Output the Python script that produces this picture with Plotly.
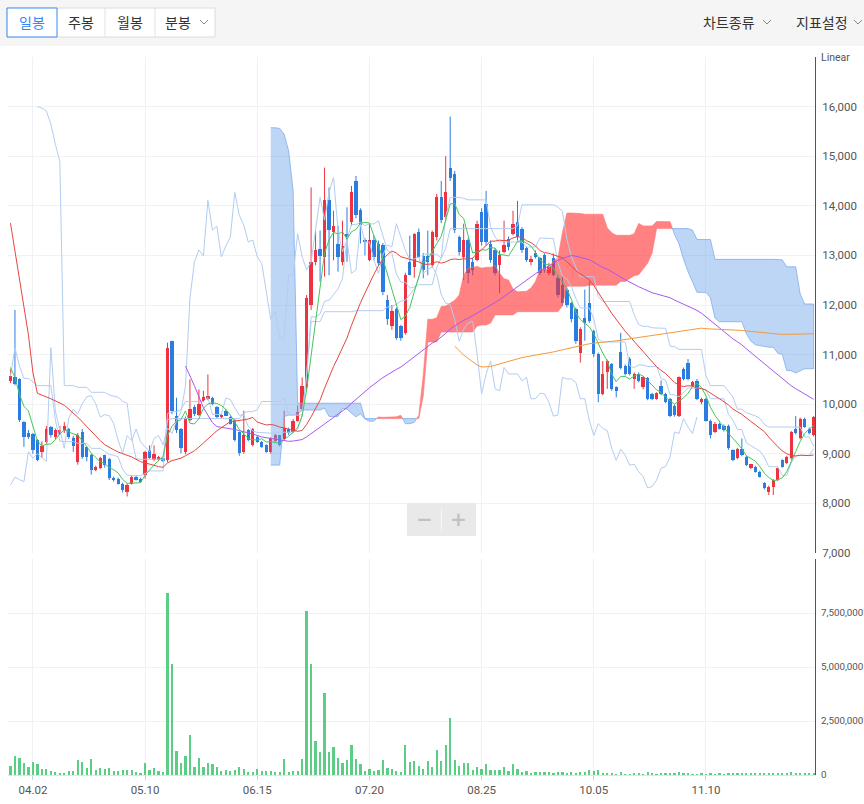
import numpy as np
import plotly.graph_objects as go

W, H = 864, 804
def px(x): return x / W
def py(y): return 1 - y / H

# ---------------- data ----------------
tick_idx = [5, 30, 55, 80, 105, 130, 155]
tick_labels = ['04.02', '05.10', '06.15', '07.20', '08.25', '10.05', '11.10']

open_ = [10470,10540,10500,9640,9420,9400,9270,9040,9240,9540,
9330,9400,9480,9500,9310,8840,9440,9140,8970,8680,
8710,8970,8900,8510,8500,8400,8240,8400,8530,8500,
8570,9070,8870,8870,8920,8870,11270,9770,9500,9040,
9680,9950,9780,10070,10100,10120,9940,9740,9870,9740,
9670,9440,9040,9470,9170,9340,9240,9170,9040,9250,
9370,9290,9510,9440,9670,9910,10350,12000,12870,13120,
12970,14110,13470,13240,12870,13440,13670,14510,13910,13310,
12910,13310,13240,13210,12110,11570,11910,11570,11440,12870,
12770,13470,12990,12990,12810,13370,14170,13770,14770,14640,
13370,12970,13310,12870,12910,13870,14040,13240,13110,12810,
13070,13340,13440,13670,13540,13140,12870,13050,12940,13010,
12640,12940,12540,12410,12310,12040,11910,11040,11740,12040,
11470,11010,10210,10640,10810,10340,11050,10770,10910,10510,
10610,10340,10520,10210,10110,10360,10210,10110,9970,9770,
10710,10840,10370,10470,10040,10110,9670,9440,9610,9570,
9570,9070,8910,9090,8940,8710,8740,8640,8410,8240,
8340,8470,8870,8810,8910,9510,9310,9710,9510,9370]

high = [10700,11900,10520,9660,9480,9420,9300,9250,9560,9560,
9510,9560,9640,9520,9360,9420,9500,9150,9000,8760,
8940,8980,8920,8540,8520,8420,8400,8560,8560,8520,
9060,9170,9170,8960,8940,11240,11280,10130,9520,9750,
10500,9980,10300,10270,10600,10150,9960,9800,9900,9760,
9700,9450,9870,9500,9520,9360,9260,9190,9330,9400,
9380,9870,9530,9700,9980,10540,12200,14370,13500,13500,
14770,14370,13900,13600,13700,13970,14400,14600,13950,13350,
13640,13400,13300,13250,12200,12000,11950,11600,12650,13400,
13450,13540,13050,13500,13500,14240,14500,15000,15800,14700,
13400,13640,13350,12950,13700,13950,14300,13300,13150,13100,
13700,13380,13900,14100,13570,13170,12990,13100,12970,13040,
12850,13040,12600,12580,12350,12060,11950,11550,12310,12470,
11500,11040,10870,10900,10830,10360,11440,10800,10950,10640,
10640,10560,10550,10230,10240,10480,10230,10130,9990,10560,
10740,10910,10470,10510,10130,10130,9690,9640,9630,9590,
9590,9090,9120,9310,8960,8800,8760,8660,8430,8360,
8490,8720,8890,8960,9460,9760,9730,9730,9530,9760]

low = [10430,10380,9640,9140,9300,9000,8850,8920,9200,9330,
9290,9380,9420,9300,9040,8780,8900,8850,8580,8650,
8690,8720,8470,8440,8380,8220,8140,8380,8460,8420,
8500,8900,8850,8850,8830,8830,9800,9420,9010,8990,
9650,9760,9760,10040,10080,9980,9720,9720,9760,9590,
9250,8960,9000,9250,9150,9220,9120,9020,9000,9230,
9150,9270,9380,9420,9650,9880,10300,11900,12800,12470,
12570,12600,12900,12670,12800,12870,13600,13750,13240,13000,
12880,12900,12800,12200,11600,11500,11300,11280,11400,12600,
12550,12950,12540,12600,12760,13300,13650,13700,14500,13450,
13000,12500,12440,12600,12880,13200,13200,12850,12600,12240,
13040,13100,13400,13300,13050,12870,12800,12940,12600,12650,
12600,12580,12150,11980,11950,11650,11220,10840,11280,11640,
10950,10040,10180,10310,10270,10140,10700,10580,10580,10310,
10440,10300,10080,10080,10090,10180,10020,9740,9750,9740,
10480,10480,10350,10080,10000,9650,9310,9420,9490,9450,
9080,8850,8890,8950,8750,8690,8620,8520,8280,8170,
8170,8450,8720,8790,8880,9390,9290,9520,9390,9350]

close_ = [10560,10410,9680,9340,9330,9070,8880,9160,9510,9370,
9490,9470,9560,9330,9150,9370,8940,8940,8670,8740,
8910,8770,8510,8470,8400,8270,8370,8530,8480,8440,
9040,8910,9000,8930,8850,11140,9870,9480,9110,9720,
9900,9800,10010,10150,10170,10010,9740,9790,9770,9610,
9270,9010,9370,9270,9500,9240,9140,9040,9310,9370,
9180,9520,9410,9670,9850,10360,12140,12870,13110,12990,
14110,13510,13590,12970,13190,13370,14270,13810,13610,13270,
13310,12970,12840,12270,11710,11870,11340,11340,12610,12610,
13440,12970,12710,12870,13470,14170,13710,14270,14570,13510,
13070,13310,12640,12710,13640,13270,13270,12910,12640,13010,
13210,13170,13640,13370,13110,12910,12930,12970,12640,12710,
12770,12610,12210,12040,12010,11710,11270,11510,11640,11670,
11010,10210,10610,10870,10310,10270,10740,10610,10610,10610,
10470,10540,10110,10110,10220,10210,10040,9760,9780,10540,
10510,10510,10440,10110,10110,9670,9370,9610,9510,9470,
9110,8870,9090,8970,8770,8790,8640,8540,8310,8340,
8470,8710,8740,8940,9440,9410,9710,9540,9410,9740]

volume_m = [0.43,0.90,0.79,0.54,0.37,0.59,0.49,0.28,0.28,0.19,
0.12,0.08,0.09,0.17,0.19,0.69,0.59,0.32,0.74,0.23,
0.32,0.29,0.32,0.19,0.19,0.23,0.23,0.23,0.12,0.09,
0.54,0.23,0.32,0.19,0.12,8.43,5.14,1.11,0.54,0.90,
1.85,0.39,0.79,0.39,0.54,0.49,0.39,0.19,0.23,0.19,
0.23,0.39,0.28,0.12,0.12,0.28,0.19,0.19,0.19,0.12,
0.12,0.74,0.12,0.19,0.19,0.74,7.59,5.14,1.57,1.05,
3.81,1.05,1.31,0.79,0.54,0.69,1.40,0.74,0.49,0.19,
0.28,0.19,0.23,0.69,0.32,0.28,0.19,0.12,1.40,0.59,
0.63,0.43,0.28,0.63,0.39,1.16,0.63,1.40,2.64,0.69,
0.43,0.54,0.54,0.23,0.39,0.28,0.49,0.23,0.23,0.23,
0.39,0.19,0.49,0.28,0.12,0.19,0.09,0.12,0.12,0.12,
0.12,0.08,0.12,0.12,0.09,0.15,0.09,0.12,0.12,0.23,
0.19,0.23,0.09,0.09,0.09,0.03,0.15,0.04,0.04,0.09,
0.09,0.04,0.15,0.08,0.04,0.09,0.09,0.09,0.09,0.12,
0.09,0.09,0.04,0.04,0.09,0.04,0.09,0.04,0.05,0.04,
0.09,0.09,0.09,0.09,0.09,0.05,0.05,0.09,0.09,0.09,
0.06,0.06,0.06,0.09,0.12,0.09,0.06,0.06,0.06,0.06]

# indicator values before the full window exists
ma5_early_idx = [0, 1, 2, 3]
ma5_early = [10740, 10540, 10200, 9960]
ma20_early_idx = [0, 1, 3, 4, 5, 6, 9, 12, 15, 18]
ma20_early = [13650, 13107, 12010, 11400, 10640, 10220, 10110, 9980, 9740, 9460]
ma60_early_idx = [39, 41, 43, 45, 46, 50, 54, 56, 58]
ma60_early = [10770, 10370, 9930, 9630, 9550, 9490, 9400, 9340, 9310]
ma120_early_idx = [99, 101, 104, 105, 107, 110, 114, 118]
ma120_early = [11170, 10990, 10790, 10750, 10760, 10840, 10940, 11007]
kijun_early_idx = [6, 7, 8, 9, 10, 11]
kijun_early = [16000, 15970, 15910, 15650, 15240, 14900]
spanb_early_idx = [58, 59, 60, 61, 62, 63]
spanb_early = [15573, 15573, 15560, 15440, 15107, 14300]

# ---------------- derived ----------------
o = np.array(open_, float); hh = np.array(high, float)
ll = np.array(low, float); c = np.array(close_, float)
vol = np.array(volume_m) * 1e6
N = len(c)
idx = np.arange(N)

def sma(n, start):
    xs = list(range(start, N))
    return xs, [float(c[i - n + 1:i + 1].mean()) for i in xs]

def mid(i, n):
    lo = max(0, i - n + 1)
    return float((hh[lo:i + 1].max() + ll[lo:i + 1].min()) / 2)

x5, y5 = sma(5, 4)
x20, y20 = sma(20, 19)
x60, y60 = sma(60, 59)
x120, y120 = sma(120, 119)

tenkan = [mid(i, 9) for i in range(N)]
kijun_full = {i: mid(i, 26) for i in range(12, N)}
kijun_x = kijun_early_idx + list(range(12, N))
kijun_y = kijun_early + [kijun_full[i] for i in range(12, N)]

chikou_x = list(range(0, N - 26))
chikou_y = list(c[26:])

cloud_x = list(range(58, N))
span_a = [(tenkan[i - 26] + kijun_full[i - 26]) / 2 for i in cloud_x]
span_b = [spanb_early[spanb_early_idx.index(i)] if i in spanb_early_idx else mid(i - 26, 52)
          for i in cloud_x]

RED = '#ee3340'
BLUE = '#2c7de0'

fig = go.Figure()

# volume
fig.add_trace(go.Bar(x=idx, y=vol, width=0.5, marker=dict(color='#5ccd84', line=dict(width=0)),
                     xaxis='x', yaxis='y2', hoverinfo='skip'))

# candle bodies
up = c >= o
for mask, col in ((up, RED), (~up, BLUE)):
    xs = idx[mask]
    body = (c - o)[mask]
    body = np.where(np.abs(body) < 25, np.where(mask[mask], 25, -25), body)
    fig.add_trace(go.Bar(x=xs, y=body, base=o[mask], width=0.74,
                         marker=dict(color=col, line=dict(width=0)),
                         xaxis='x', yaxis='y', hoverinfo='skip'))
# wicks
for mask, col in ((up, RED), (~up, BLUE)):
    wx, wy = [], []
    for i in idx[mask]:
        wx += [i, i, None]; wy += [ll[i], hh[i], None]
    fig.add_trace(go.Scatter(x=wx, y=wy, mode='lines', line=dict(color=col, width=1),
                             xaxis='x', yaxis='y', hoverinfo='skip'))

# cloud polygons
def sgn(v): return 1 if v > 0 else (-1 if v < 0 else 0)
polys = []
pa = [(cloud_x[0], span_a[0])]; pb = [(cloud_x[0], span_b[0])]
cur = sgn(span_a[0] - span_b[0]) or -1
for k in range(1, len(cloud_x)):
    d0 = span_a[k - 1] - span_b[k - 1]; d1 = span_a[k] - span_b[k]
    s1 = sgn(d1)
    if s1 != 0 and s1 != cur:
        t = d0 / (d0 - d1) if d0 != d1 else 0
        xc = cloud_x[k - 1] + t
        yc = span_a[k - 1] + t * (span_a[k] - span_a[k - 1])
        pa.append((xc, yc)); pb.append((xc, yc))
        polys.append((cur, pa, pb))
        pa = [(xc, yc)]; pb = [(xc, yc)]; cur = s1
    pa.append((cloud_x[k], span_a[k])); pb.append((cloud_x[k], span_b[k]))
polys.append((cur, pa, pb))
for s, pa, pb in polys:
    pts = pa + pb[::-1]
    fill = 'rgba(255,45,45,0.6)' if s > 0 else 'rgba(110,165,235,0.45)'
    edge = 'rgba(255,120,120,0.6)' if s > 0 else 'rgba(120,170,235,0.75)'
    fig.add_trace(go.Scatter(x=[p[0] for p in pts], y=[p[1] for p in pts], mode='lines',
                             fill='toself', fillcolor=fill, line=dict(color=edge, width=1),
                             xaxis='x', yaxis='y', hoverinfo='skip'))

# ichimoku lines
LB = '#b2cdf1'
for xs, ys in ((list(idx), tenkan), (kijun_x, kijun_y), (chikou_x, chikou_y)):
    fig.add_trace(go.Scatter(x=xs, y=ys, mode='lines', line=dict(color=LB, width=1),
                             xaxis='x', yaxis='y', hoverinfo='skip'))

# moving averages
for ex, ey, xs, ys, col in ((ma5_early_idx, ma5_early, x5, y5, '#45c65a'),
                            (ma20_early_idx, ma20_early, x20, y20, '#e8453f'),
                            (ma60_early_idx, ma60_early, x60, y60, '#a659ef'),
                            (ma120_early_idx, ma120_early, x120, y120, '#f39a3a')):
    fig.add_trace(go.Scatter(x=ex + xs, y=ey + ys, mode='lines', line=dict(color=col, width=1),
                             xaxis='x', yaxis='y', hoverinfo='skip'))

TF = dict(family='Roboto, Noto Sans, sans-serif', size=11.5, color='#555')
TFV = dict(family='Roboto, Noto Sans, sans-serif', size=9.8, color='#555')
price_ticks = list(range(7000, 17001, 1000))
price_text = [f'{v:,}' for v in price_ticks[:-1]] + ['']

fig.update_layout(
    width=W, height=H, margin=dict(l=0, r=0, t=0, b=0),
    template='none', paper_bgcolor='white', plot_bgcolor='white',
    showlegend=False, barmode='overlay', bargap=0,
    xaxis=dict(domain=[px(8), px(815)], range=[-0.55, 179.3], anchor='y2',
               tickmode='array', tickvals=tick_idx, ticktext=tick_labels,
               showgrid=True, gridcolor='#eef1f6', gridwidth=1, zeroline=False,
               showline=True, linecolor='#dde5ee', ticks='outside', ticklen=4,
               tickcolor='#c6d2e2', tickfont=TF, automargin=False),
    yaxis=dict(domain=[py(553), py(57)], range=[7000, 17000], side='right', anchor='x',
               tickmode='array', tickvals=price_ticks, ticktext=price_text,
               showgrid=True, gridcolor='#f1f1f1', zeroline=False,
               showline=True, linecolor='#555', linewidth=1, ticks='',
               tickfont=TF, automargin=False, ticklabelstandoff=4),
    yaxis2=dict(domain=[py(775), py(559)], range=[0, 1e7], side='right', anchor='x',
                tickmode='array', tickvals=[0, 2.5e6, 5e6, 7.5e6],
                ticktext=['0', '2,500,000', '5,000,000', '7,500,000'],
                showgrid=True, gridcolor='#f1f1f1', zeroline=False,
                showline=True, linecolor='#555', linewidth=1, ticks='',
                tickfont=TFV, automargin=False, ticklabelstandoff=3),
)

shapes = []
ann = []
KF = 'Noto Sans CJK KR, sans-serif'
# toolbar
shapes.append(dict(type='rect', xref='paper', yref='paper', x0=0, x1=1, y0=py(46), y1=1,
                   fillcolor='#f5f5f5', line=dict(width=0), layer='above'))
shapes.append(dict(type='rect', xref='paper', yref='paper', x0=px(7), x1=px(215), y0=py(37), y1=py(8),
                   fillcolor='white', line=dict(color='#dcdcdc', width=1), layer='above'))
for xd in (105, 155):
    shapes.append(dict(type='line', xref='paper', yref='paper', x0=px(xd), x1=px(xd), y0=py(37), y1=py(8),
                       line=dict(color='#e2e2e2', width=1), layer='above'))
shapes.append(dict(type='rect', xref='paper', yref='paper', x0=px(7), x1=px(57), y0=py(37), y1=py(8),
                   fillcolor='white', line=dict(color='#3b87f2', width=1), layer='above'))
for label, xc, col in (('일봉', 32, '#3b87f2'), ('주봉', 81, '#333'), ('월봉', 130, '#333'),
                       ('분봉', 178, '#333'), ('차트종류', 729, '#333'), ('지표설정', 822, '#333')):
    ann.append(dict(x=px(xc), y=py(22), xref='paper', yref='paper', text=label, showarrow=False,
                    xanchor='center', yanchor='middle', font=dict(family=KF, size=14, color=col)))
for xc in (204, 767, 858):
    shapes.append(dict(type='path', xref='paper', yref='paper',
                       path=f'M {px(xc-4)},{py(20)} L {px(xc)},{py(24)} L {px(xc+4)},{py(20)}',
                       line=dict(color='#888', width=1), layer='above'))
# Linear label
ann.append(dict(x=px(819), y=py(57), xref='paper', yref='paper', text='Linear', showarrow=False,
                xanchor='left', yanchor='middle', font=dict(family='Roboto, sans-serif', size=10.5, color='#555')))
# zoom control
shapes.append(dict(type='rect', xref='paper', yref='paper', x0=px(407), x1=px(476), y0=py(536), y1=py(503),
                   fillcolor='#e9e9e9', line=dict(width=0), layer='above'))
shapes.append(dict(type='line', xref='paper', yref='paper', x0=px(441.5), x1=px(441.5), y0=py(531), y1=py(508),
                   line=dict(color='#f7f7f7', width=1), layer='above'))
for sym, xc in (('−', 424), ('+', 458)):
    ann.append(dict(x=px(xc), y=py(519), xref='paper', yref='paper', text=f'<b>{sym}</b>', showarrow=False,
                    xanchor='center', yanchor='middle', font=dict(family='DejaVu Sans', size=20, color='#c2c2c2')))

fig.update_layout(shapes=shapes, annotations=ann)
fig.write_html('out.html', config={'displayModeBar': False},
               post_script="document.body.style.margin='0';document.body.style.padding='0';document.body.style.overflow='hidden';")
